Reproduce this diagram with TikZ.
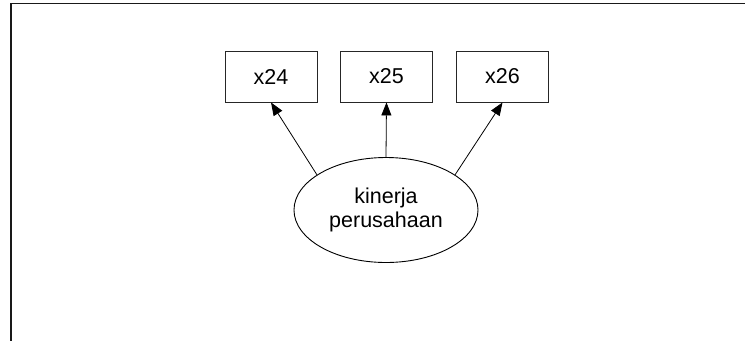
\documentclass[tikz,border=0pt]{standalone}
\usepackage{fontspec}
\setmainfont{Liberation Sans}
\usetikzlibrary{arrows.meta,shapes.geometric}
\begin{document}
\begin{tikzpicture}[x=1pt,y=-1pt,
  indicator/.style={draw=black!85,line width=0.9pt,minimum width=92pt,minimum height=51pt,
    inner sep=0pt,font=\fontsize{21.5}{24}\selectfont},
  construct/.style={ellipse,draw=black,line width=0.9pt,minimum width=184pt,minimum height=105pt,
    inner sep=0pt,align=center,font=\fontsize{21.5}{24}\selectfont},
  loading/.style={draw=black,line width=0.8pt,-{Triangle[length=13pt,width=10pt]}},
  frame/.style={draw=black!90,line width=1.5pt}]
  \useasboundingbox (0,0) rectangle (745,341);
  % border lines along the top and left
  \coordinate (fb) at (745,3.5);
  \coordinate (fk) at (11,3.5);
  \coordinate (fc) at (11,341);
  \draw[frame] (fb) -- (fk) -- (fc);
  % observed indicators
  \node[indicator] (b24) at (271,76.5) {x24};
  \node[indicator] (b25) at (386.5,76.5) {x25};
  \node[indicator] (b26) at (502.5,76.5) {x26};
  % latent construct
  \node[construct] (e) at (386,210) {kinerja\\perusahaan};
  % loadings
  \draw[loading] (e.153) -- (b24.south);
  \draw[loading] (e.north) -- (b25.south);
  \draw[loading] (e.27) -- (b26.south);
\end{tikzpicture}
\end{document}
